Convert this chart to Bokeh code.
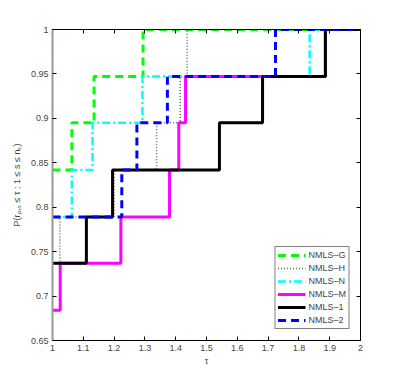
from bokeh.plotting import figure
from bokeh.models import LinearAxis, FixedTicker, Range1d, Legend
from bokeh.embed import file_html
from bokeh.resources import INLINE

# ---- data (performance profiles) ----
g_tau = [1.0, 1.063, 1.135, 1.294, 2.0]
g_p = [0.842, 0.895, 0.947, 1.0, 1.0]

h_tau = [1.0, 1.024, 1.2, 1.338, 1.415, 1.437, 2.0]
h_p = [0.737, 0.789, 0.842, 0.895, 0.947, 1.0, 1.0]

n_tau = [1.0, 1.063, 1.130, 1.292, 1.835, 2.0]
n_p = [0.789, 0.842, 0.895, 0.947, 1.0, 1.0]

m_tau = [1.0, 1.025, 1.222, 1.38, 1.41, 1.432, 1.886, 2.0]
m_p = [0.684, 0.737, 0.789, 0.842, 0.895, 0.947, 1.0, 1.0]

one_tau = [1.0, 1.11, 1.195, 1.542, 1.682, 1.886, 2.0]
one_p = [0.737, 0.789, 0.842, 0.895, 0.947, 1.0, 1.0]

two_tau = [1.0, 1.225, 1.274, 1.373, 1.724, 2.0]
two_p = [0.789, 0.842, 0.895, 0.947, 1.0, 1.0]

x_ticks = [1, 1.1, 1.2, 1.3, 1.4, 1.5, 1.6, 1.7, 1.8, 1.9, 2]
x_tick_labels = ["1", "1.1", "1.2", "1.3", "1.4", "1.5", "1.6", "1.7", "1.8", "1.9", "2"]
y_ticks = [0.65, 0.7, 0.75, 0.8, 0.85, 0.9, 0.95, 1]
y_tick_labels = ["0.65", "0.7", "0.75", "0.8", "0.85", "0.9", "0.95", "1"]

FONT = "Liberation Sans"

p = figure(frame_width=308, frame_height=311, output_backend="svg",
           toolbar_location=None, x_range=Range1d(1, 2), y_range=Range1d(0.65, 1),
           min_border_left=52, min_border_right=28, min_border_top=29, min_border_bottom=40,
           x_axis_label="τ", y_axis_label="P(rₚ,ₛ ≤ τ : 1 ≤ s ≤ nₛ)")
p.background_fill_color = "white"
p.border_fill_color = "white"
p.grid.visible = False
p.outline_line_color = "black"
p.outline_line_width = 1

for ax, ticks, labels in ((p.xaxis[0], x_ticks, x_tick_labels), (p.yaxis[0], y_ticks, y_tick_labels)):
    ax.ticker = FixedTicker(ticks=ticks)
    ax.major_label_overrides = {t: l for t, l in zip(ticks, labels)}
    ax.major_tick_in = 4
    ax.major_tick_out = 0
    ax.minor_tick_line_color = None
    ax.major_label_text_font = FONT
    ax.major_label_text_font_size = "9px"
    ax.axis_label_text_font = FONT
    ax.axis_label_text_font_size = "9px"
    ax.axis_label_text_font_style = "normal"
    ax.major_label_standoff = 4
p.yaxis[0].axis_line_color = "#999999"
p.yaxis[0].axis_line_width = 2
p.xaxis[0].axis_label_standoff = 2
p.yaxis[0].axis_label_standoff = 6

for loc, ticks in (("above", x_ticks), ("right", y_ticks)):
    ax = LinearAxis(ticker=FixedTicker(ticks=ticks), major_tick_in=4, major_tick_out=0,
                    minor_tick_line_color=None, major_label_text_color=None,
                    major_label_text_font_size="1px", major_label_standoff=0)
    p.add_layout(ax, loc)

g = p.step(g_tau, g_p, mode="after", line_color="#00ff00", line_width=3, line_dash="8 5")
h = p.step(h_tau, h_p, mode="after", line_color="#666666", line_width=1.5, line_dash="1 2")
n = p.step(n_tau, n_p, mode="after", line_color="#00ffff", line_width=2.5, line_dash="8 3 2 3")
m = p.step(m_tau, m_p, mode="after", line_color="#ff00ff", line_width=3)
o = p.step(one_tau, one_p, mode="after", line_color="black", line_width=3)
t = p.step(two_tau, two_p, mode="after", line_color="#0000ff", line_width=3, line_dash="8 5")

legend = Legend(items=[("NMLS–G", [g]), ("NMLS–H", [h]), ("NMLS–N", [n]),
                       ("NMLS–M", [m]), ("NMLS–1", [o]), ("NMLS–2", [t])],
                location="bottom_right")
legend.margin = 11
legend.padding = 2
legend.spacing = 1
legend.glyph_width = 28
legend.glyph_height = 12
legend.label_height = 12
legend.label_width = 10
legend.label_standoff = 3
legend.label_text_font = FONT
legend.label_text_font_size = "9px"
legend.border_line_color = "black"
legend.border_line_width = 1
legend.background_fill_alpha = 1
p.add_layout(legend, "center")

open("out.html", "w").write(file_html(p, INLINE))
